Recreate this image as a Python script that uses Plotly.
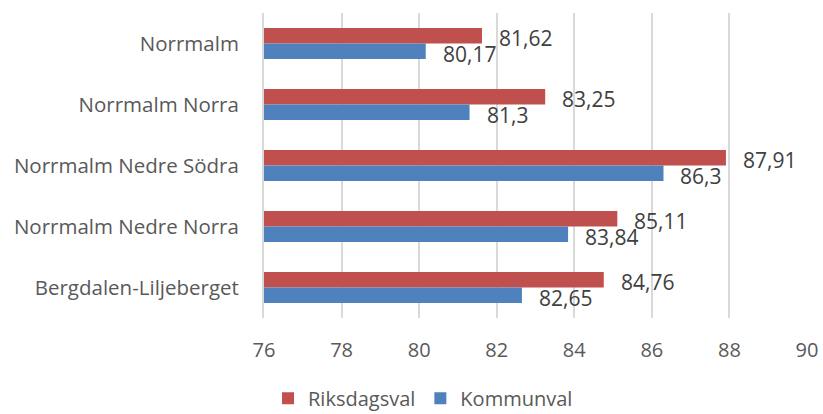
import plotly.graph_objects as go

categories = ["Norrmalm", "Norrmalm Norra", "Norrmalm Nedre Södra",
              "Norrmalm Nedre Norra", "Bergdalen-Liljeberget"]
riksdagsval = [81.62, 83.25, 87.91, 85.11, 84.76]
kommunval = [80.17, 81.3, 86.3, 83.84, 82.65]
riks_labels = ["81,62", "83,25", "87,91", "85,11", "84,76"]
komm_labels = ["80,17", "81,3", "86,3", "83,84", "82,65"]
x_ticks = [76, 78, 80, 82, 84, 86, 88, 90]

FONT = "Open Sans"
RED = "#c0504d"
BLUE = "#4f81bd"
GRID = "#d9d9d9"

fig = go.Figure()
fig.add_trace(go.Bar(y=categories, x=riksdagsval, orientation="h",
                     name="Riksdagsval", marker=dict(color=RED, line=dict(width=0))))
fig.add_trace(go.Bar(y=categories, x=kommunval, orientation="h",
                     name="Kommunval", marker=dict(color=BLUE, line=dict(width=0))))

annotations = []
for cat, v, t in zip(categories, riksdagsval, riks_labels):
    annotations.append(dict(x=v, y=cat, text=t, xanchor="left", yanchor="middle",
                            xshift=15, yshift=6, showarrow=False,
                            font=dict(family=FONT, size=21, color="#404040")))
for cat, v, t in zip(categories, kommunval, komm_labels):
    annotations.append(dict(x=v, y=cat, text=t, xanchor="left", yanchor="middle",
                            xshift=15, yshift=-10, showarrow=False,
                            font=dict(family=FONT, size=21, color="#404040")))

fig.update_layout(
    width=823, height=414,
    margin=dict(l=264, r=16, t=13, b=96, autoexpand=False),
    paper_bgcolor="white", plot_bgcolor="white",
    barmode="group", bargap=0.49, bargroupgap=0,
    font=dict(family=FONT, size=20, color="#595959"),
    showlegend=True,
    legend=dict(orientation="h", xref="container", yref="container",
                x=0.514, xanchor="center", y=0.085, yanchor="top",
                font=dict(family=FONT, size=20, color="#595959"),
                itemwidth=30, traceorder="normal"),
    annotations=annotations,
    xaxis=dict(range=[76, 90], tickvals=x_ticks, ticktext=[str(v) for v in x_ticks],
               showgrid=True, gridcolor=GRID, gridwidth=2, automargin=False,
               zeroline=False, showline=False, ticks="",
               ticklabelstandoff=18,
               tickfont=dict(family=FONT, size=20, color="#595959")),
    yaxis=dict(autorange="reversed", showgrid=False, ticks="", automargin=False,
               showline=True, linecolor=GRID, linewidth=2,
               ticklabelstandoff=19,
               tickfont=dict(family=FONT, size=20.5, color="#595959")),
)

fig.write_html("out.html", config={"displayModeBar": False},
               post_script="document.body.style.margin='0';")
